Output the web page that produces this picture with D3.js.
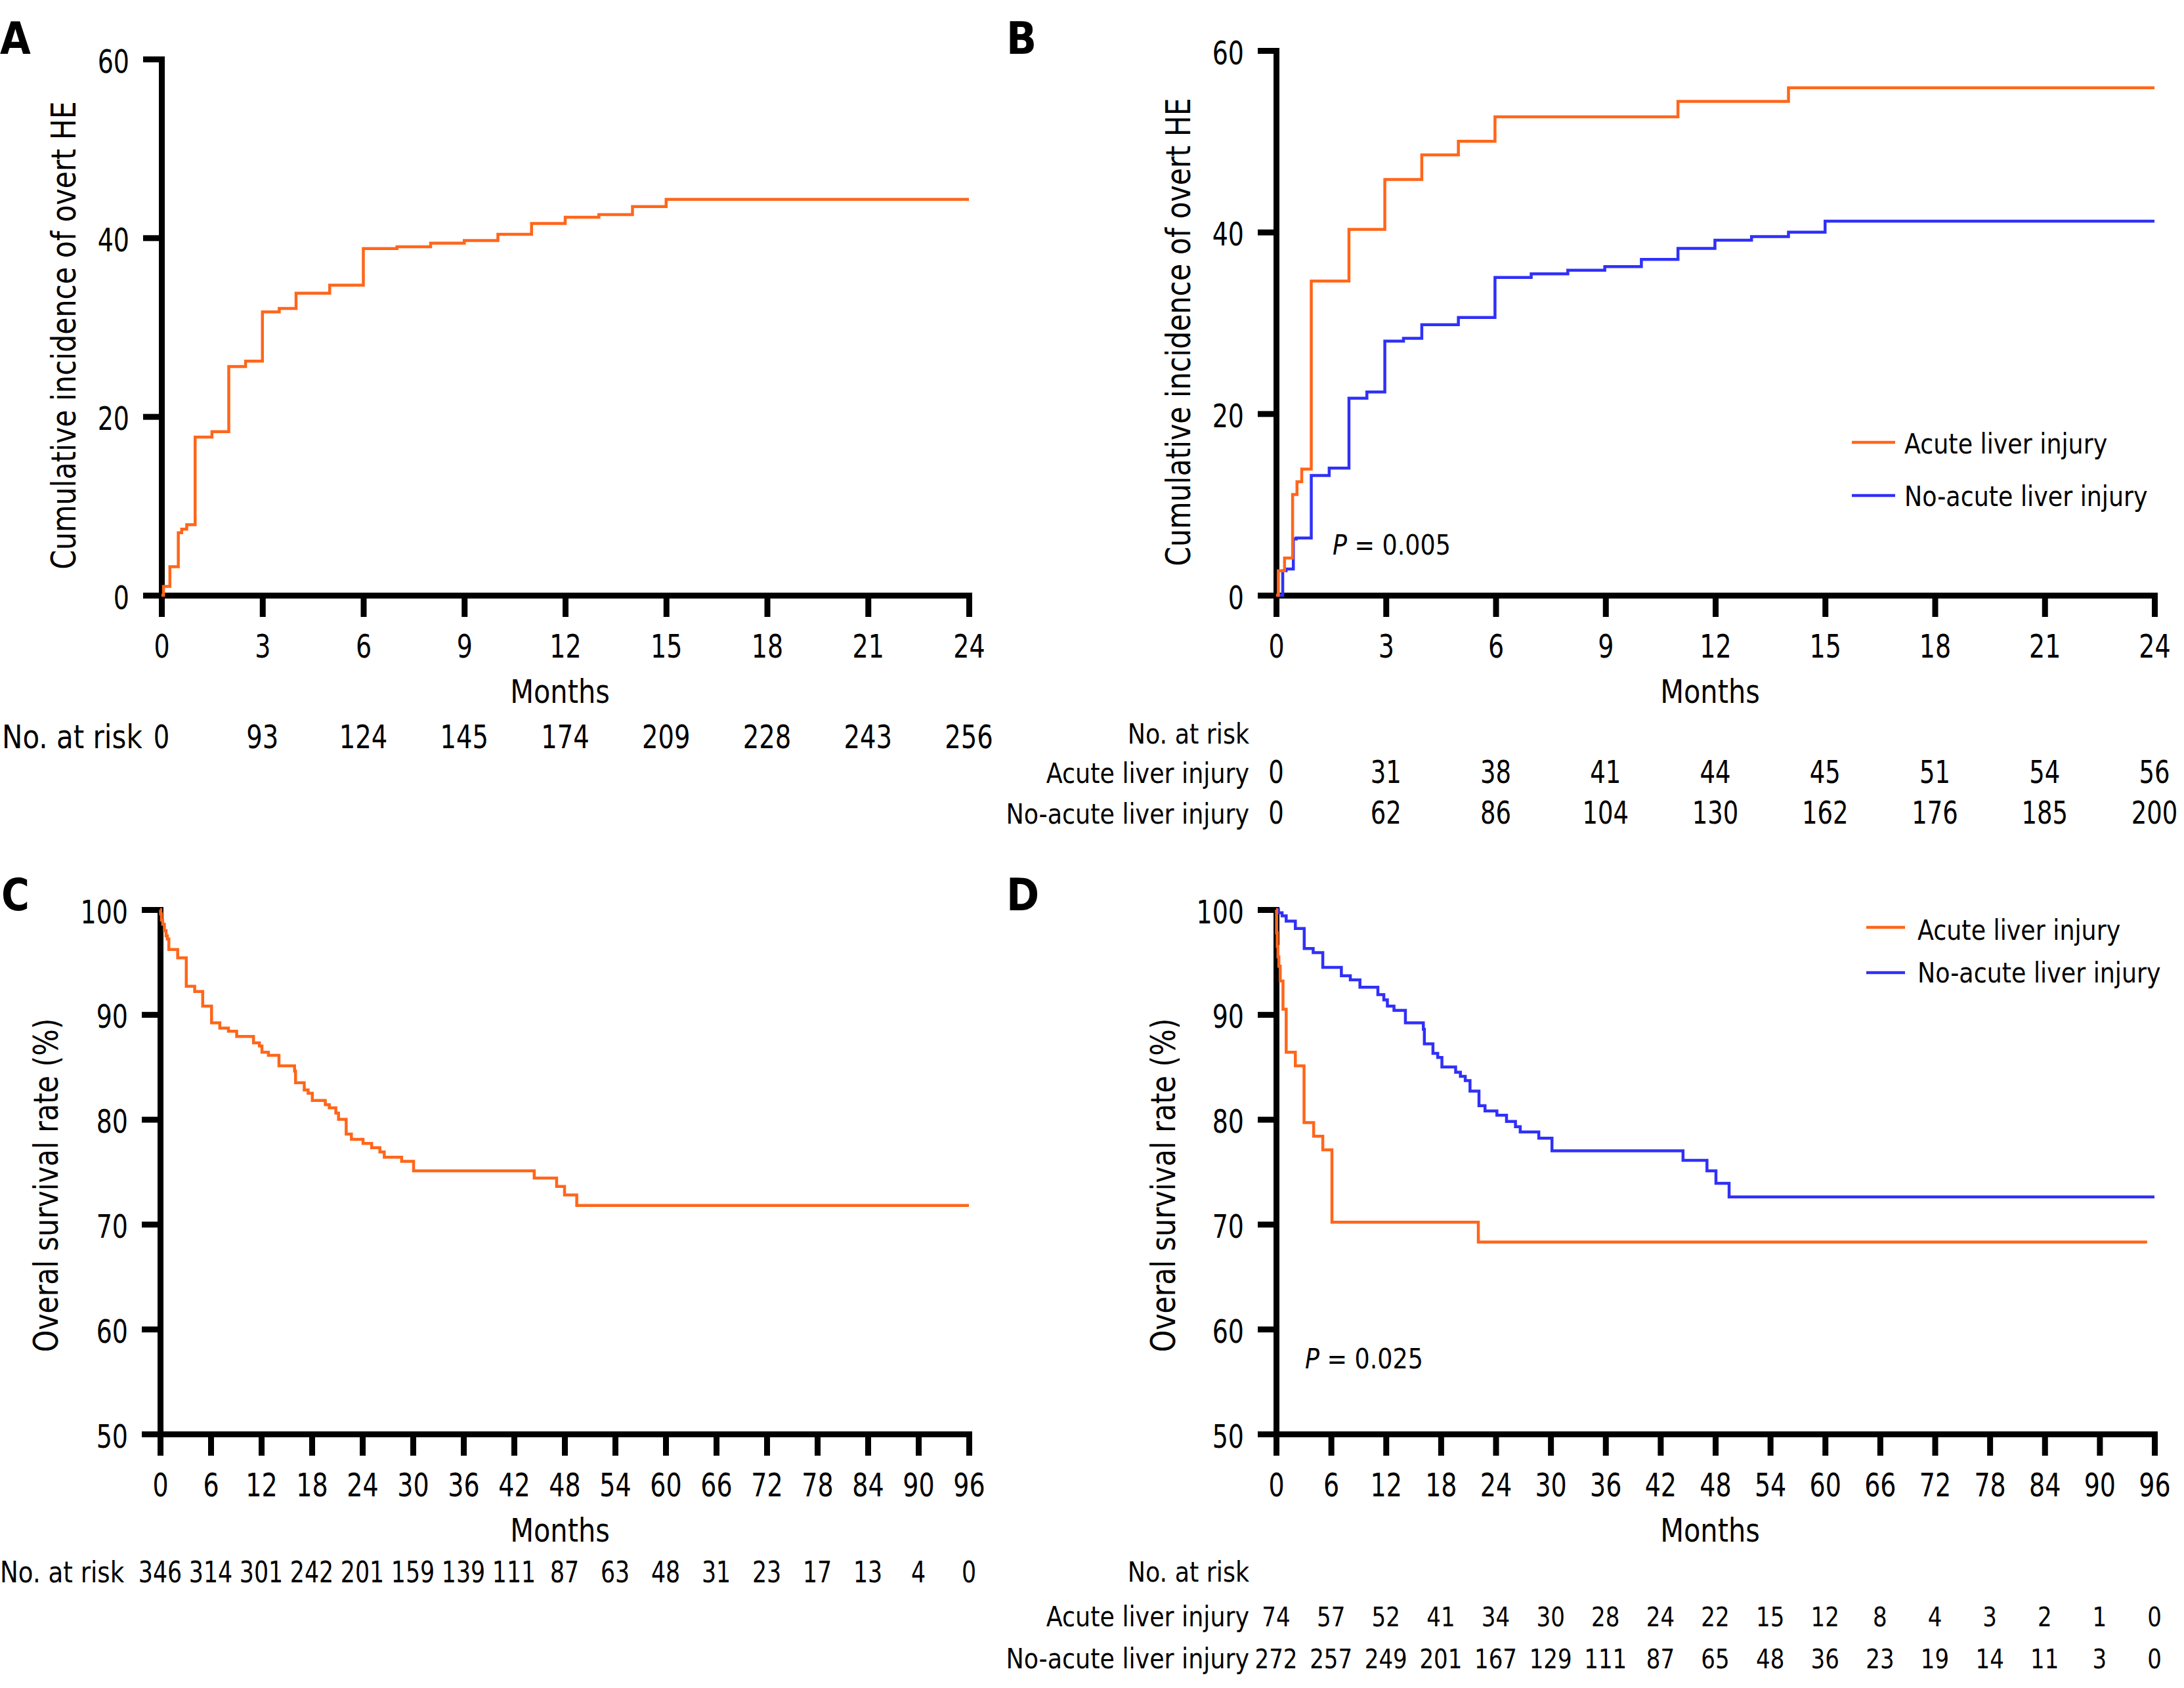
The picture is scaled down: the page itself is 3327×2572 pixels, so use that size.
<!DOCTYPE html>
<html>
<head>
<meta charset="utf-8">
<script src="https://cdn.jsdelivr.net/npm/d3@7"></script>
<style>
  html, body { margin: 0; padding: 0; background: #fff; }
  svg { display: block; }
</style>
</head>
<body>
<svg id="chart" width="3327" height="2572"></svg>
<script>
// ---------------- DATA ----------------
// Panel A: cumulative incidence of overt HE (months, %)
const curveA = [[0,0],[0.06,1],[0.25,3.2],[0.5,7],[0.6,7.4],[0.75,7.9],[1,17.7],[1.5,18.3],[2,25.6],[2.5,26.2],[3,31.7],[3.5,32.1],[4,33.8],[5,34.7],[6,38.8],[7,39.0],[8,39.4],[9,39.7],[10,40.4],[11,41.6],[12,42.3],[13,42.6],[14,43.5],[15,44.3],[24,44.3]];
const ticksA = [0,3,6,9,12,15,18,21,24];
const yTicksA = [0,20,40,60];
const riskA = ["0","93","124","145","174","209","228","243","256"];

// Panel B
const curveBAcute = [[0,0],[0.06,2.7],[0.23,4.1],[0.45,11.1],[0.57,12.5],[0.7,13.9],[0.96,34.6],[1.99,40.3],[2.97,45.8],[3.98,48.5],[4.98,50.0],[5.98,52.7],[10.98,54.4],[14.0,55.9],[24,55.9]];
const curveBNoAcute = [[0,0],[0.18,2.7],[0.27,2.9],[0.47,6.2],[0.55,6.3],[0.96,13.2],[1.45,14.0],[1.99,21.7],[2.48,22.4],[2.97,28.0],[3.48,28.3],[3.98,29.8],[4.98,30.6],[5.98,35.0],[6.97,35.4],[7.97,35.8],[8.98,36.2],[9.98,37.0],[10.98,38.2],[11.99,39.1],[12.99,39.5],[14.0,40.0],[15.0,41.2],[24,41.2]];
const riskBAcute = ["0","31","38","41","44","45","51","54","56"];
const riskBNoAcute = ["0","62","86","104","130","162","176","185","200"];

// Panel C: overall survival (months, %)
const curveC = [[0,100],[0.05,99.6],[0.15,99.0],[0.3,98.6],[0.5,98.0],[0.7,97.5],[0.85,97.2],[1.03,96.2],[2.08,95.4],[3.1,92.7],[4.1,92.2],[5.05,90.8],[6.1,89.2],[7.08,88.7],[8.1,88.4],[9.08,87.9],[11.08,87.3],[11.78,87.0],[12.08,86.4],[12.85,86.1],[14.1,85.1],[15.95,84.6],[16.07,83.5],[17.1,82.8],[17.56,82.5],[18.06,81.8],[19.6,81.4],[20.08,81.1],[20.85,80.6],[21.17,80.0],[22.08,78.6],[22.7,78.1],[24.08,77.7],[25.1,77.3],[26.08,76.9],[26.6,76.4],[28.66,76.0],[30.08,75.1],[44.4,74.4],[47.06,73.6],[48.0,72.8],[49.45,71.8],[96,71.8]];
const ticksC = [0,6,12,18,24,30,36,42,48,54,60,66,72,78,84,90,96];
const yTicksC = [50,60,70,80,90,100];
const riskC = ["346","314","301","242","201","159","139","111","87","63","48","31","23","17","13","4","0"];

// Panel D
const curveDAcute = [[0,100],[0.05,97.8],[0.12,96.5],[0.2,95.5],[0.3,94.6],[0.45,93.2],[0.75,90.5],[1.1,86.4],[2.1,85.1],[3.05,79.7],[4.1,78.4],[5.1,77.1],[6.1,70.2],[22.1,68.3],[95.2,68.3]];
const curveDNoAcute = [[0,100],[0.26,99.7],[0.65,99.4],[1.1,98.9],[2.1,98.2],[3.07,96.3],[4.05,95.9],[5.1,94.5],[7.13,93.7],[8.11,93.3],[9.16,92.6],[11.12,91.9],[11.77,91.4],[12.16,90.8],[12.88,90.4],[14.13,89.2],[16.09,88.6],[16.2,87.2],[17.14,86.3],[17.66,85.9],[18.12,85.0],[19.62,84.5],[20.14,84.1],[20.67,83.7],[21.19,82.7],[22.17,81.3],[22.83,80.8],[24.13,80.4],[25.18,79.8],[26.16,79.3],[26.68,78.8],[28.71,78.2],[30.15,77.0],[44.47,76.1],[47.09,75.1],[48.07,73.9],[49.51,72.6],[96,72.6]];
const riskDAcute = ["74","57","52","41","34","30","28","24","22","15","12","8","4","3","2","1","0"];
const riskDNoAcute = ["272","257","249","201","167","129","111","87","65","48","36","23","19","14","11","3","0"];

const groupNames = ["Acute liver injury","No-acute liver injury"];

// ---------------- STYLE ----------------
const FONT = "DejaVu Sans";
const ORANGE = "#FF661A";
const BLUE = "#3030F8";
const svg = d3.select("#chart").attr("font-family", FONT);

function label(g, x, y, s, o) {
  const t = g.append("text")
    .attr("transform", `translate(${x},${y})` + (o.rot ? ` rotate(${o.rot})` : "") + ` scale(${o.sx || 1},1)`)
    .attr("text-anchor", o.anchor || "start")
    .attr("font-size", o.size)
    .attr("font-weight", o.weight || "normal")
    .attr("fill", "#000");
  if (o.italicP) {
    t.append("tspan").attr("font-style", "italic").text("P");
    t.append("tspan").text(s);
  } else {
    t.text(s);
  }
  return t;
}

function axes(x, y, xticks, yticks) {
  const gx = svg.append("g")
    .attr("transform", `translate(0,${y.range()[0]})`)
    .call(d3.axisBottom(x).tickValues(xticks).tickSize(33).tickSizeOuter(0).tickPadding(0).tickFormat(d3.format("d")));
  gx.attr("font-family", FONT).attr("font-size", 50);
  gx.select(".domain").attr("stroke", "#000").attr("stroke-width", 9).attr("stroke-linecap", "square");
  gx.selectAll(".tick line").attr("stroke", "#000").attr("stroke-width", 9);
  gx.selectAll(".tick text").attr("y", 95).attr("dy", null).attr("fill", "#000")
    .attr("transform", "scale(0.76,1)");

  const gy = svg.append("g")
    .attr("transform", `translate(${x.range()[0]},0)`)
    .call(d3.axisLeft(y).tickValues(yticks).tickSize(28).tickSizeOuter(0).tickPadding(0).tickFormat(d3.format("d")));
  gy.attr("font-family", FONT).attr("font-size", 50);
  gy.select(".domain").attr("stroke", "#000").attr("stroke-width", 9).attr("stroke-linecap", "square");
  gy.selectAll(".tick line").attr("stroke", "#000").attr("stroke-width", 9);
  gy.selectAll(".tick text").attr("x", -49 / 0.76).attr("y", 20).attr("dy", null).attr("fill", "#000")
    .attr("transform", "scale(0.76,1)");
}

function curve(x, y, data, color) {
  const line = d3.line().x(d => x(d[0])).y(d => y(d[1])).curve(d3.curveStepAfter);
  svg.append("path").datum(data)
    .attr("d", line)
    .attr("fill", "none")
    .attr("stroke", color)
    .attr("stroke-width", 4.5)
    .attr("stroke-linejoin", "miter");
}

function riskRow(x, ticks, values, yBase, size, sx) {
  const g = svg.append("g").attr("font-size", size).attr("text-anchor", "middle");
  g.selectAll("text").data(values).join("text")
    .attr("transform", (d, i) => `translate(${x(ticks[i])},${yBase}) scale(${sx},1)`)
    .attr("fill", "#000")
    .text(d => d);
}

function legend(x0, x1, xText, items) {
  items.forEach(it => {
    svg.append("line").attr("x1", x0).attr("x2", x1).attr("y1", it.y).attr("y2", it.y)
      .attr("stroke", it.color).attr("stroke-width", 4.5);
    label(svg, xText, it.ty, it.name, { size: 42, sx: 0.867 });
  });
}

// ---------------- PANEL A ----------------
const xA = d3.scaleLinear().domain([0, 24]).range([246, 1476]);
const yA = d3.scaleLinear().domain([0, 60]).range([907, 90]);
axes(xA, yA, ticksA, yTicksA);
curve(xA, yA, curveA, ORANGE);
label(svg, 0, 82, "A", { size: 68, sx: 0.89, weight: "bold" });
label(svg, 115, 511, "Cumulative incidence of overt HE", { size: 52, sx: 0.82, rot: -90, anchor: "middle" });
label(svg, 853, 1071, "Months", { size: 50, sx: 0.83, anchor: "middle" });
label(svg, 3, 1140, "No. at risk", { size: 50, sx: 0.84 });
riskRow(xA, ticksA, riskA, 1140, 50, 0.77);

// ---------------- PANEL B ----------------
const xB = d3.scaleLinear().domain([0, 24]).range([1944, 3282]);
const yB = d3.scaleLinear().domain([0, 60]).range([907, 77]);
axes(xB, yB, ticksA, yTicksA);
curve(xB, yB, curveBNoAcute, BLUE);
curve(xB, yB, curveBAcute, ORANGE);
label(svg, 1533, 82, "B", { size: 68, sx: 0.89, weight: "bold" });
label(svg, 1813, 506, "Cumulative incidence of overt HE", { size: 52, sx: 0.82, rot: -90, anchor: "middle" });
label(svg, 2605, 1071, "Months", { size: 50, sx: 0.83, anchor: "middle" });
legend(2821, 2887, 2901, [
  { y: 674, ty: 691, color: ORANGE, name: groupNames[0] },
  { y: 755, ty: 771, color: BLUE, name: groupNames[1] }
]);
label(svg, 2030, 845, " = 0.005", { size: 42, sx: 0.867, italicP: true });
label(svg, 1903, 1133, "No. at risk", { size: 42, sx: 0.867, anchor: "end" });
label(svg, 1903, 1193, groupNames[0], { size: 42, sx: 0.867, anchor: "end" });
label(svg, 1903, 1255, groupNames[1], { size: 42, sx: 0.867, anchor: "end" });
riskRow(xB, ticksA, riskBAcute, 1193, 48, 0.77);
riskRow(xB, ticksA, riskBNoAcute, 1255, 48, 0.77);

// ---------------- PANEL C ----------------
const xC = d3.scaleLinear().domain([0, 96]).range([244, 1476]);
const yC = d3.scaleLinear().domain([50, 100]).range([2185, 1386]);
axes(xC, yC, ticksC, yTicksC);
curve(xC, yC, curveC, ORANGE);
label(svg, 2, 1387, "C", { size: 68, sx: 0.86, weight: "bold" });
label(svg, 88, 1806, "Overal survival rate (%)", { size: 52, sx: 0.82, rot: -90, anchor: "middle" });
label(svg, 853, 2349, "Months", { size: 50, sx: 0.83, anchor: "middle" });
label(svg, 0, 2411, "No. at risk", { size: 44, sx: 0.845 });
riskRow(xC, ticksC, riskC, 2411, 44, 0.79);

// ---------------- PANEL D ----------------
const xD = d3.scaleLinear().domain([0, 96]).range([1944, 3282]);
const yD = d3.scaleLinear().domain([50, 100]).range([2185, 1386]);
axes(xD, yD, ticksC, yTicksC);
curve(xD, yD, curveDNoAcute, BLUE);
curve(xD, yD, curveDAcute, ORANGE);
label(svg, 1533, 1387, "D", { size: 68, sx: 0.89, weight: "bold" });
label(svg, 1790, 1806, "Overal survival rate (%)", { size: 52, sx: 0.82, rot: -90, anchor: "middle" });
label(svg, 2605, 2349, "Months", { size: 50, sx: 0.83, anchor: "middle" });
legend(2843, 2902, 2921, [
  { y: 1413, ty: 1432, color: ORANGE, name: groupNames[0] },
  { y: 1482, ty: 1497, color: BLUE, name: groupNames[1] }
]);
label(svg, 1988, 2085, " = 0.025", { size: 42, sx: 0.867, italicP: true });
label(svg, 1903, 2410, "No. at risk", { size: 42, sx: 0.867, anchor: "end" });
label(svg, 1903, 2478, groupNames[0], { size: 42, sx: 0.867, anchor: "end" });
label(svg, 1903, 2542, groupNames[1], { size: 42, sx: 0.867, anchor: "end" });
riskRow(xD, ticksC, riskDAcute, 2478, 41, 0.83);
riskRow(xD, ticksC, riskDNoAcute, 2542, 41, 0.83);
</script>
</body>
</html>
